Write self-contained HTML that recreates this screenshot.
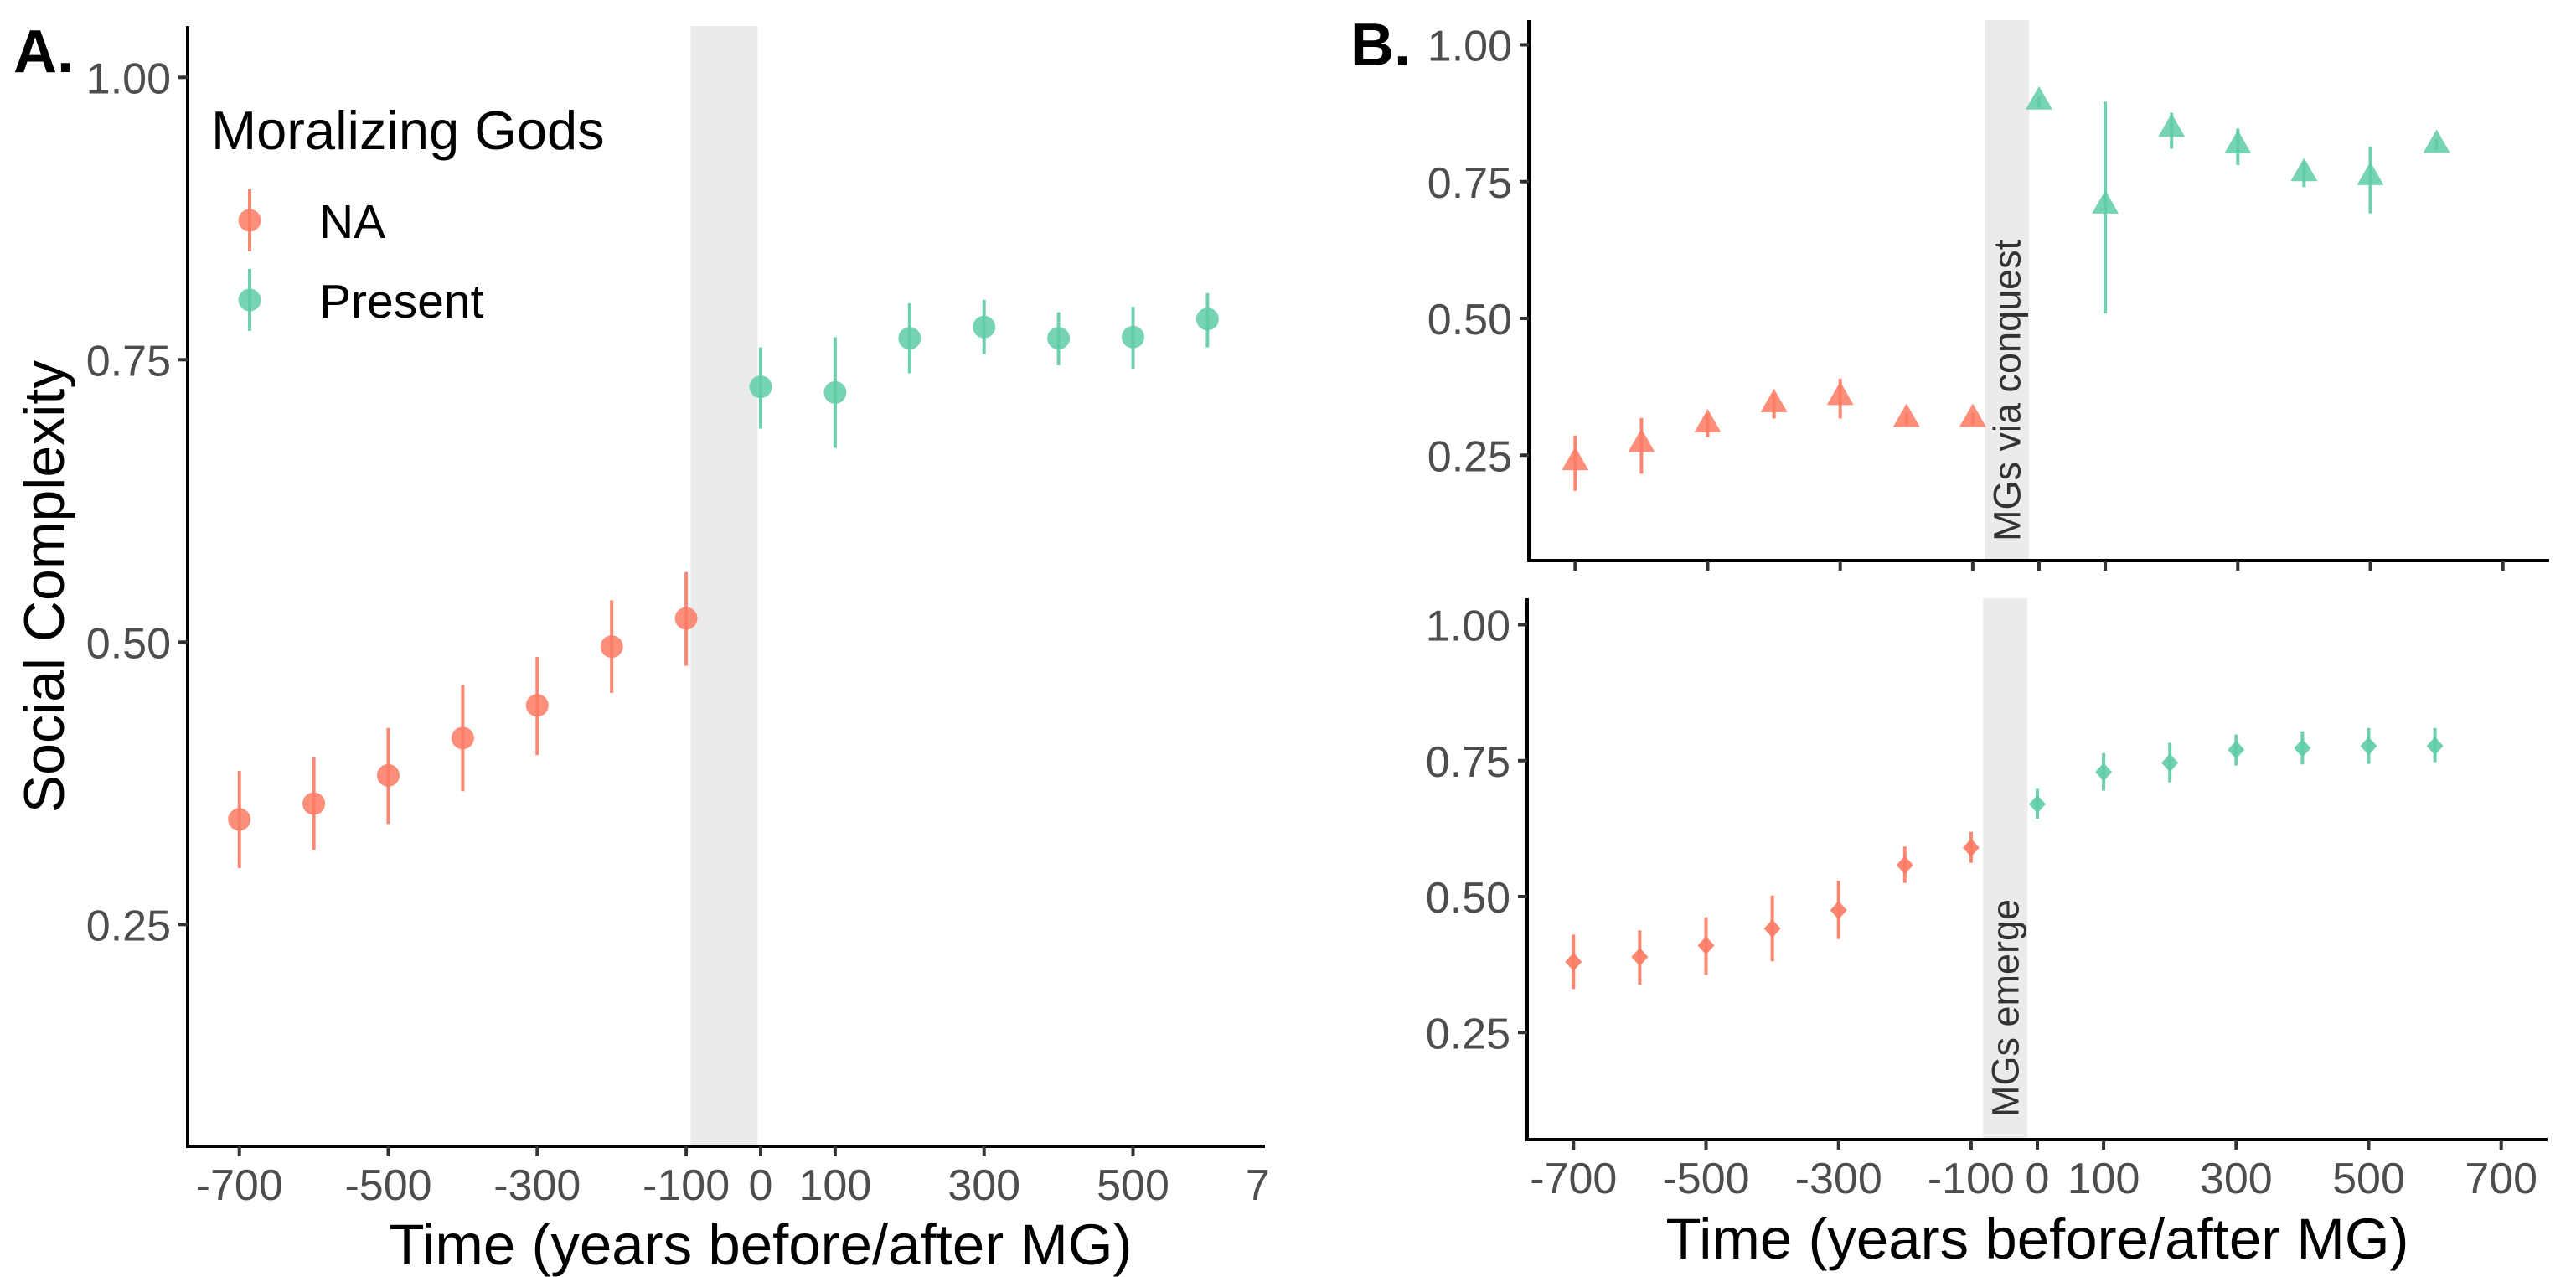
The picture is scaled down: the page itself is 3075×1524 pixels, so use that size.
<!DOCTYPE html>
<html><head><meta charset="utf-8"><style>
html,body{margin:0;padding:0;background:#fff}
svg{display:block;font-family:"Liberation Sans",Arial,sans-serif}
</style></head><body>
<svg id="chart" width="3075" height="1524" viewBox="0 0 3075 1524" xmlns="http://www.w3.org/2000/svg"></svg>
<script>
const years = [-700,-600,-500,-400,-300,-200,-100,0,100,200,300,400,500,600];
const groupOf = ["NA","NA","NA","NA","NA","NA","NA","Present","Present","Present","Present","Present","Present","Present"];
const aMean = [0.343,0.357,0.382,0.415,0.444,0.496,0.521,0.726,0.721,0.769,0.779,0.769,0.770,0.786];
const aLow  = [0.300,0.316,0.339,0.368,0.400,0.455,0.479,0.689,0.672,0.738,0.755,0.745,0.742,0.761];
const aHigh = [0.386,0.398,0.424,0.462,0.487,0.537,0.562,0.761,0.770,0.800,0.803,0.792,0.797,0.809];
const cMean = [0.238,0.271,0.307,0.344,0.357,0.317,0.317,0.897,0.707,0.847,0.817,0.766,0.759,0.818];
const cLow  = [0.185,0.216,0.283,0.317,0.317,0.305,0.305,0.885,0.509,0.810,0.780,0.740,0.692,0.808];
const cHigh = [0.286,0.318,0.326,0.362,0.390,0.327,0.327,0.905,0.896,0.876,0.847,0.787,0.814,0.828];
const eMean = [0.380,0.389,0.410,0.441,0.475,0.558,0.590,0.670,0.729,0.746,0.770,0.773,0.777,0.777];
const eLow  = [0.330,0.338,0.356,0.381,0.422,0.525,0.562,0.643,0.695,0.710,0.741,0.743,0.744,0.747];
const eHigh = [0.430,0.438,0.462,0.502,0.529,0.592,0.619,0.698,0.764,0.783,0.798,0.804,0.810,0.810];
const yTicks = [0.25,0.50,0.75,1.00];
const yTickLabels = ["0.25","0.50","0.75","1.00"];
const xTicks = [-700,-500,-300,-100,0,100,300,500,700];
const xTickLabels = ["-700","-500","-300","-100","0","100","300","500","700"];
const bandA = [-94,-4];
const bandB = [-82,-15];

const NS="http://www.w3.org/2000/svg";
const svg=document.getElementById('chart');
const COL={NA:"#fb7a63",Present:"#5fcca5"};
function mk(tag,attrs,parent,text){const e=document.createElementNS(NS,tag);for(const k in attrs)e.setAttribute(k,attrs[k]);if(text!==undefined)e.textContent=text;(parent||svg).appendChild(e);return e;}

function panel(p){
  const g=mk('g',{});
  
  
  const X=v=>p.x0+v*p.xs;
  const Y=v=>p.y1+(1-v)*p.ys;
  const band=mk('rect',{x:X(p.band[0]),y:p.top,width:X(p.band[1])-X(p.band[0]),height:p.bottom-p.top,fill:"#ebebeb"},g);
  
  
  if(p.bandLabel){
    const cx=(X(p.band[0])+X(p.band[1]))/2+16;
    const t=mk('text',{x:0,y:0,transform:`translate(${cx},${p.labelBottom}) rotate(-90)`,'font-size':45,fill:"#333"},g,p.bandLabel);
    
    
  }
  const ya=mk('line',{x1:p.axX,y1:p.top,x2:p.axX,y2:p.bottom+2,stroke:"#000","stroke-width":4},g);
  
  
  const xa=mk('line',{x1:p.axX-2,y1:p.bottom,x2:p.right,y2:p.bottom,stroke:"#000","stroke-width":4},g);
  
  
  yTicks.forEach((v,i)=>{
    mk('line',{x1:p.axX-11,y1:Y(v),x2:p.axX,y2:Y(v),stroke:"#333","stroke-width":4},g);
    const t=mk('text',{x:p.axX-20,y:Y(v)+19,'font-size':52,fill:"#4d4d4d",'text-anchor':'end'},g,yTickLabels[i]);
    
    
  });
  xTicks.forEach((v,i)=>{
    mk('line',{x1:X(v),y1:p.bottom,x2:X(v),y2:p.bottom+12,stroke:"#333","stroke-width":4},g);
    if(p.xLabels){
      const t=mk('text',{x:X(v),y:p.bottom+64,'font-size':52,fill:"#4d4d4d",'text-anchor':'middle'},g,xTickLabels[i]);
      
      
    }
  });
  years.forEach((yr,i)=>{
    const c=COL[groupOf[i]];
    const eb=mk('line',{x1:X(yr),y1:Y(p.hi[i]),x2:X(yr),y2:Y(p.lo[i]),stroke:c,"stroke-width":4,opacity:0.9},g);
    
    
    const cx=X(yr),cy=Y(p.mean[i]);let m;
    if(p.shape==='circle') m=mk('circle',{cx:cx,cy:cy,r:13.5,fill:c,opacity:0.85},g);
    else if(p.shape==='tri') m=mk('polygon',{points:`${cx-16},${cy+10} ${cx+16},${cy+10} ${cx},${cy-18}`,fill:c,opacity:0.85},g);
    else m=mk('polygon',{points:`${cx},${cy-11} ${cx+10},${cy} ${cx},${cy+11} ${cx-10},${cy}`,fill:c,opacity:0.9},g);
    
    
  });
}
panel({name:'panel-a',x0:908,xs:0.889,y1:92.3,ys:1348,top:31,bottom:1368,axX:224,right:1510,band:bandA,mean:aMean,lo:aLow,hi:aHigh,shape:'circle',xLabels:true});
panel({name:'panel-b-conquest',x0:2434,xs:0.791,y1:53.5,ys:653,top:24,bottom:669,axX:1825,right:3043,band:bandB,bandLabel:'MGs via conquest',labelBottom:646,mean:cMean,lo:cLow,hi:cHigh,shape:'tri',xLabels:false});
panel({name:'panel-b-emerge',x0:2432,xs:0.791,y1:745.5,ys:649,top:714,bottom:1360,axX:1823,right:3041,band:bandB,bandLabel:'MGs emerge',labelBottom:1333,mean:eMean,lo:eLow,hi:eHigh,shape:'dia',xLabels:true});

const cover=mk('rect',{x:1514,y:1366,width:90,height:90,fill:"#fff"});



function txt(name,attrs,s){const t=mk('text',attrs,svg,s);return t;}
txt('panel-a-tag',{x:16,y:86,'font-size':72,'font-weight':'bold',fill:'#000'},'A.');
txt('panel-b-tag',{x:1612,y:78,'font-size':72,'font-weight':'bold',fill:'#000'},'B.');
txt('y-axis-title',{x:0,y:0,transform:'translate(76,700) rotate(-90)','font-size':68,'text-anchor':'middle',fill:'#000'},'Social Complexity');
txt('x-axis-title-a',{x:908,y:1509,'font-size':69,'text-anchor':'middle',fill:'#000'},'Time (years before/after MG)');
txt('x-axis-title-b',{x:2432,y:1502,'font-size':69,'text-anchor':'middle',fill:'#000'},'Time (years before/after MG)');
txt('legend-title',{x:252,y:178,'font-size':65,fill:'#000'},'Moralizing Gods');
const legendKeys=["NA","Present"];
const legendY=[263,358];
legendKeys.forEach((k,i)=>{
  const l=mk('line',{x1:298,y1:legendY[i]-37,x2:298,y2:legendY[i]+37,stroke:COL[k],"stroke-width":4,opacity:0.9});
  
  
  const c=mk('circle',{cx:298,cy:legendY[i],r:13.5,fill:COL[k],opacity:0.85});
  
  
  txt('legend-label',{x:381,y:legendY[i]+21,'font-size':57,fill:'#000'},k);
});
</script>
</body></html>
